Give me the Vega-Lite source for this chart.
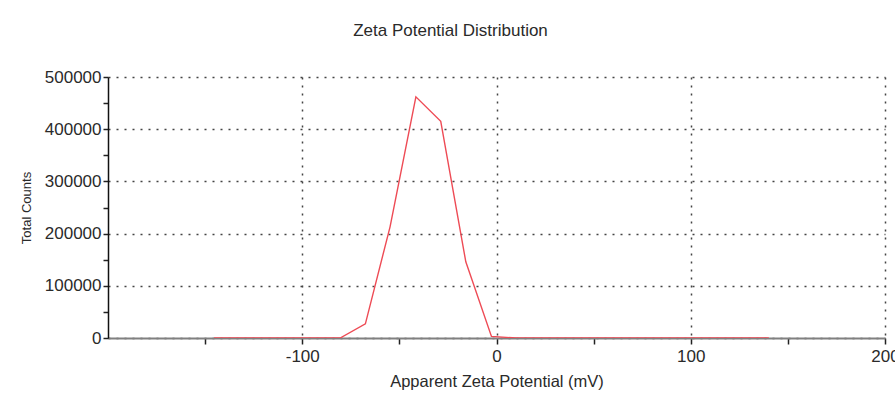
{
  "$schema": "https://vega.github.io/schema/vega-lite/v6.json",
  "width": 777,
  "height": 261,
  "autosize": {"type": "none"},
  "padding": {"left": 108, "top": 77, "right": 10, "bottom": 58},
  "background": "white",
  "title": {
    "text": "Zeta Potential Distribution",
    "font": "Liberation Sans",
    "fontSize": 17,
    "fontWeight": "normal",
    "color": "#2a2a2a",
    "anchor": "middle",
    "dx": -46,
    "offset": 28
  },
  "config": {
    "view": {"stroke": null},
    "font": "Liberation Sans"
  },
  "data": {
    "values": [
      {"mv": -145.4, "counts": 0},
      {"mv": -132.4, "counts": 0},
      {"mv": -119.4, "counts": 0},
      {"mv": -106.4, "counts": 0},
      {"mv": -93.5, "counts": 0},
      {"mv": -80.5, "counts": 0},
      {"mv": -67.5, "counts": 27000},
      {"mv": -54.8, "counts": 213000},
      {"mv": -41.5, "counts": 462000},
      {"mv": -28.7, "counts": 415000},
      {"mv": -15.8, "counts": 146000},
      {"mv": -2.6, "counts": 3000},
      {"mv": 10.4, "counts": 0},
      {"mv": 23.4, "counts": 0},
      {"mv": 36.4, "counts": 0},
      {"mv": 49.3, "counts": 0},
      {"mv": 62.3, "counts": 0},
      {"mv": 75.3, "counts": 0},
      {"mv": 88.3, "counts": 0},
      {"mv": 101.3, "counts": 0},
      {"mv": 114.2, "counts": 0},
      {"mv": 127.2, "counts": 0},
      {"mv": 140.2, "counts": 0}
    ]
  },
  "mark": {"type": "line", "color": "#ee4b55", "strokeWidth": 1.4, "clip": true},
  "encoding": {
    "x": {
      "field": "mv",
      "type": "quantitative",
      "scale": {"domain": [-200, 200], "nice": false, "zero": false},
      "axis": {
        "title": "Apparent Zeta Potential (mV)",
        "titleFont": "Liberation Sans",
        "titleFontSize": 16.5,
        "titleFontWeight": "normal",
        "titleColor": "#2a2a2a",
        "titlePadding": 9,
        "values": [-150, -100, -50, 0, 50, 100, 150, 200],
        "labelExpr": "datum.value % 100 == 0 ? '' + datum.value : ''",
        "labelFont": "Liberation Sans",
        "labelFontSize": 17,
        "labelColor": "#2a2a2a",
        "labelPadding": 4,
        "labelFlush": false,
        "labelOverlap": false,
        "domainColor": "#808080",
        "domainWidth": 2,
        "tickColor": "#222222",
        "tickSize": 6,
        "tickWidth": 1.5,
        "grid": true,
        "gridColor": "#444444",
        "gridDash": [2, 6],
        "gridWidth": 1.5,
        "gridOpacity": {"condition": {"test": "datum.value % 100 == 0", "value": 1}, "value": 0}
      }
    },
    "y": {
      "field": "counts",
      "type": "quantitative",
      "scale": {"domain": [0, 500000], "nice": false},
      "axis": {
        "title": "Total Counts",
        "titleFont": "Liberation Sans",
        "titleFontSize": 13,
        "titleFontWeight": "normal",
        "titleColor": "#2a2a2a",
        "titlePadding": 11,
        "values": [0, 50000, 100000, 150000, 200000, 250000, 300000, 350000, 400000, 450000, 500000],
        "labelExpr": "datum.value % 100000 == 0 ? format(datum.value, 'd') : ''",
        "labelFont": "Liberation Sans",
        "labelFontSize": 17,
        "labelColor": "#2a2a2a",
        "labelPadding": 2,
        "labelFlush": false,
        "labelOverlap": false,
        "domainColor": "#111111",
        "domainWidth": 1.5,
        "tickColor": "#222222",
        "tickSize": 5,
        "tickWidth": 1.5,
        "grid": true,
        "gridColor": "#444444",
        "gridDash": [2, 6],
        "gridWidth": 1.5,
        "gridOpacity": {"condition": {"test": "datum.value % 100000 == 0", "value": 1}, "value": 0}
      }
    }
  }
}
